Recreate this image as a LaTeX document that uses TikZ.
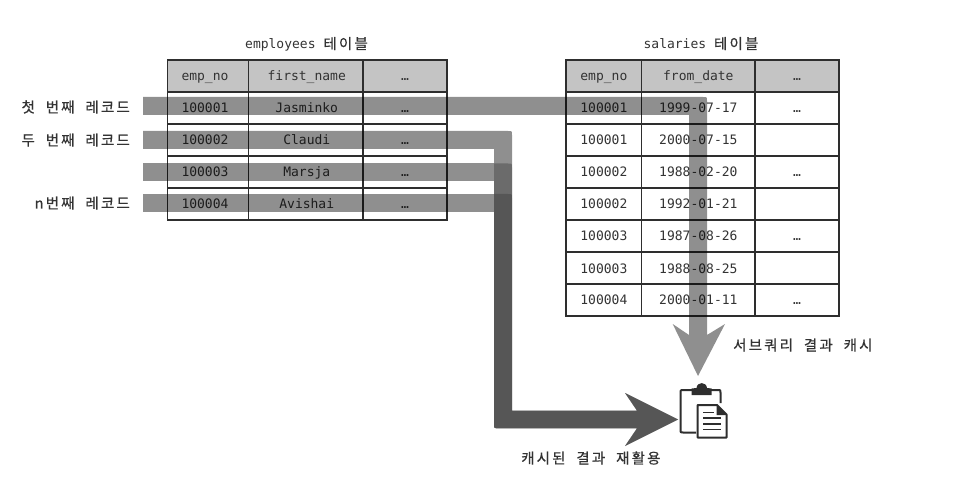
\documentclass[tikz,border=0pt]{standalone}
\usepackage{fontspec}
\setmainfont{DejaVu Sans Mono}
\newfontfamily\krfont[LetterSpace=15,WordSpace=2,FakeBold=0.6]{Noto Sans CJK KR}
\newcommand{\kr}[1]{{\fontsize{14.5}{16}\krfont #1}}
\tikzset{
  cell/.style={draw=linec,line width=1.4pt,inner sep=0pt,minimum height=32pt,font=\fontsize{13}{15}\selectfont,text=textc,text height=10pt,text depth=0pt},
  head/.style={cell,fill=headc},
  title/.style={inner sep=0pt,font=\fontsize{13}{15}\selectfont,text=textc,text height=11pt,text depth=1pt},
  lab/.style={inner sep=0pt,text=textc,text height=12pt,text depth=1pt},
  bandone/.style={fill=black,fill opacity=0.44},
  bandtwo/.style={fill=black,fill opacity=0.25},
  bandthree/.style={fill=black,fill opacity=0.2}
}
\definecolor{linec}{HTML}{2E2E2E}
\definecolor{headc}{HTML}{C4C4C4}
\definecolor{textc}{HTML}{333333}
\newcommand{\lrow}[6]{%
  \node[#2,minimum width=81pt] (e#1a) at (208,#3) {\kern-6pt #4};
  \node[#2,minimum width=114.5pt] (e#1b) at (305.75,#3) {\kern2pt #5};
  \node[#2,minimum width=84pt] (e#1c) at (405,#3) {#6};}
\newcommand{\rrow}[6]{%
  \node[#2,minimum width=75.7pt] (s#1a) at (603.85,#3) {#4};
  \node[#2,minimum width=113.3pt] (s#1b) at (698.35,#3) {#5};
  \node[#2,minimum width=84pt] (s#1c) at (797,#3) {#6};}
\begin{document}
\begin{tikzpicture}[x=1pt,y=-1pt]
\useasboundingbox (0,0) rectangle (959,481);
\node[title] (ttl1) at (306.5,44) {employees \kr{테이블}};
\node[title] (ttl2) at (701,44) {salaries \kr{테이블}};
\lrow{0}{head}{76}{emp\_no}{first\_name}{…}
\lrow{1}{cell}{108}{100001}{Jasminko}{…}
\lrow{2}{cell}{140}{100002}{Claudi}{…}
\lrow{3}{cell}{172}{100003}{Marsja}{…}
\lrow{4}{cell}{204}{100004}{Avishai}{…}
\rrow{0}{head}{76}{emp\_no}{from\_date}{…}
\rrow{1}{cell}{108}{100001}{1999-07-17}{…}
\rrow{2}{cell}{140}{100001}{2000-07-15}{}
\rrow{3}{cell}{172}{100002}{1988-02-20}{…}
\rrow{4}{cell}{204}{100002}{1992-01-21}{}
\rrow{5}{cell}{236}{100003}{1987-08-26}{…}
\rrow{6}{cell}{268}{100003}{1988-08-25}{}
\rrow{7}{cell}{300}{100004}{2000-01-11}{…}
\node[lab,anchor=east] (r1) at (130,107) {\kr{첫 번째 레코드}};
\node[lab,anchor=east] (r2) at (130,140) {\kr{두 번째 레코드}};
\node[lab,anchor=east] (r4) at (130,203) {\kr{n번째 레코드}};
\node[lab,anchor=west] (cap1) at (733,345) {\kr{서브쿼리 결과 캐시}};
\node[lab,anchor=west] (cap2) at (521,458) {\kr{캐시된 결과 재활용}};
% first band and arrow
\fill[bandone] (143,97) -- (703,97) .. controls (707,97) and (707,97) .. (707,101) -- (707,335) -- (725,324) -- (698,376) -- (672.7,324) -- (689,335) -- (689,115) -- (143,115) -- cycle;
% second band and arrow
\fill[bandone] (143,131) -- (508,131) .. controls (512,131) and (512,131) .. (512,135) -- (512,410.7) -- (637,410.7) -- (625,393) -- (678,419.5) -- (625,446) -- (637,428.3) -- (498,428.3) .. controls (494,428.3) and (494,428.3) .. (494,424.3) -- (494,149) -- (143,149) -- cycle;
% third band
\fill[bandone] (143,163.5) rectangle (494,181.5);
\fill[bandtwo] (494,163.5) -- (508,163.5) .. controls (512,163.5) and (512,163.5) .. (512,167.5) -- (512,410.7) -- (637,410.7) -- (625,393) -- (678,419.5) -- (625,446) -- (637,428.3) -- (498,428.3) .. controls (494,428.3) and (494,428.3) .. (494,424.3) -- cycle;
% fourth band
\fill[bandone] (143,194) rectangle (494,212);
\fill[bandthree] (494,194) -- (508,194) .. controls (512,194) and (512,194) .. (512,198) -- (512,410.7) -- (637,410.7) -- (625,393) -- (678,419.5) -- (625,446) -- (637,428.3) -- (498,428.3) .. controls (494,428.3) and (494,428.3) .. (494,424.3) -- cycle;
% clipboard icon
\draw[linec,line width=2pt,line join=round] (692,390) -- (683,390) .. controls (680.5,390) and (680.5,390) .. (680.5,392.5) -- (680.5,430) .. controls (680.5,432.5) and (680.5,432.5) .. (683,432.5) -- (696,432.5);
\draw[linec,line width=2pt,line join=round] (711,390) -- (718,390) .. controls (720.5,390) and (720.5,390) .. (720.5,392.5) -- (720.5,403);
\fill[linec] (691.7,395) -- (691.7,388.5) -- (696.5,388) .. controls (697,381.5) and (706.5,381.5) .. (707,388) -- (711.7,388.5) -- (711.7,395) -- cycle;
\draw[linec,line width=2pt,line join=round] (697.5,437.5) -- (697.5,405) -- (717,405) -- (726.5,414.5) -- (726.5,437.5) -- cycle;
\fill[linec] (716.5,405) -- (716.5,415) -- (726.5,415) -- cycle;
\draw[linec,line width=1.5pt] (703,412.7) -- (714,412.7) (703,418) -- (721,418) (703,424) -- (721,424) (703,429.5) -- (721,429.5);
\end{tikzpicture}
\end{document}
